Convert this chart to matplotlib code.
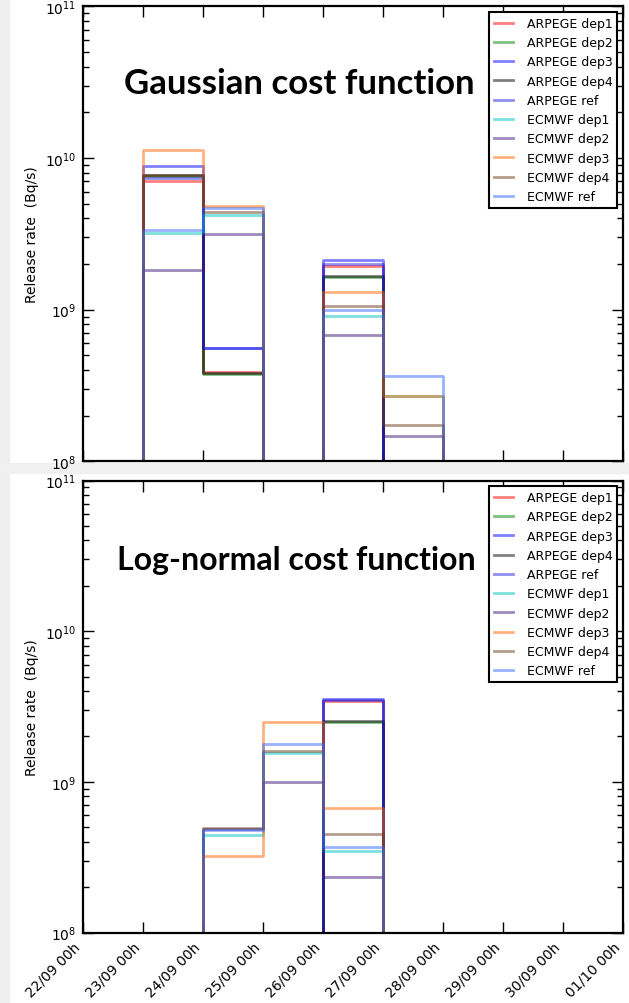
import matplotlib
matplotlib.use('Agg')
import matplotlib.pyplot as plt
import numpy as np

plt.rcParams['font.family'] = ['DejaVu Sans']
plt.rcParams['mathtext.fontset'] = 'dejavusans'

# one value per day, from 22/09 00h to 01/10 00h (0 = below the plot)
day_labels = ['22/09 00h', '23/09 00h', '24/09 00h', '25/09 00h', '26/09 00h',
              '27/09 00h', '28/09 00h', '29/09 00h', '30/09 00h', '01/10 00h']

series_names = ['ARPEGE dep1', 'ARPEGE dep2', 'ARPEGE dep3', 'ARPEGE dep4', 'ARPEGE ref',
                'ECMWF dep1', 'ECMWF dep2', 'ECMWF dep3', 'ECMWF dep4', 'ECMWF ref']
series_colors = ['#ff0000', '#008000', '#0000ff', '#000000', '#2020e0',
                 '#00bfbf', '#3c1478', '#ff6600', '#6b3a1a', '#3366ff']

# Gaussian cost function
gauss_arpege_dep1 = [0, 7.0e9, 3.9e8, 0, 1.94e9, 0, 0, 0, 0]
gauss_arpege_dep2 = [0, 7.6e9, 3.75e8, 0, 1.65e9, 0, 0, 0, 0]
gauss_arpege_dep3 = [0, 8.8e9, 5.6e8, 0, 2.12e9, 0, 0, 0, 0]
gauss_arpege_dep4 = [0, 7.7e9, 3.85e8, 0, 1.67e9, 0, 0, 0, 0]
gauss_arpege_ref = [0, 7.4e9, 5.6e8, 0, 1.99e9, 0, 0, 0, 0]
gauss_ecmwf_dep1 = [0, 3.2e9, 4.2e9, 0, 9.1e8, 2.7e8, 0, 0, 0]
gauss_ecmwf_dep2 = [0, 1.82e9, 3.14e9, 0, 6.8e8, 1.47e8, 0, 0, 0]
gauss_ecmwf_dep3 = [0, 1.13e10, 4.8e9, 0, 1.3e9, 2.7e8, 0, 0, 0]
gauss_ecmwf_dep4 = [0, 7.7e9, 4.4e9, 0, 1.05e9, 1.74e8, 0, 0, 0]
gauss_ecmwf_ref = [0, 3.35e9, 4.65e9, 0, 1.0e9, 3.66e8, 0, 0, 0]

# Log-normal cost function
lognorm_arpege_dep1 = [0, 0, 0, 0, 3.44e9, 0, 0, 0, 0]
lognorm_arpege_dep2 = [0, 0, 0, 0, 2.5e9, 0, 0, 0, 0]
lognorm_arpege_dep3 = [0, 0, 0, 0, 3.56e9, 0, 0, 0, 0]
lognorm_arpege_dep4 = [0, 0, 0, 0, 2.53e9, 0, 0, 0, 0]
lognorm_arpege_ref = [0, 0, 0, 0, 3.5e9, 0, 0, 0, 0]
lognorm_ecmwf_dep1 = [0, 0, 4.46e8, 1.55e9, 3.5e8, 0, 0, 0, 0]
lognorm_ecmwf_dep2 = [0, 0, 4.9e8, 9.9e8, 2.34e8, 0, 0, 0, 0]
lognorm_ecmwf_dep3 = [0, 0, 3.24e8, 2.49e9, 6.7e8, 0, 0, 0, 0]
lognorm_ecmwf_dep4 = [0, 0, 4.93e8, 1.6e9, 4.5e8, 0, 0, 0, 0]
lognorm_ecmwf_ref = [0, 0, 4.8e8, 1.77e9, 3.72e8, 0, 0, 0, 0]

gauss_data = [gauss_arpege_dep1, gauss_arpege_dep2, gauss_arpege_dep3, gauss_arpege_dep4,
              gauss_arpege_ref, gauss_ecmwf_dep1, gauss_ecmwf_dep2, gauss_ecmwf_dep3,
              gauss_ecmwf_dep4, gauss_ecmwf_ref]
lognorm_data = [lognorm_arpege_dep1, lognorm_arpege_dep2, lognorm_arpege_dep3,
                lognorm_arpege_dep4, lognorm_arpege_ref, lognorm_ecmwf_dep1,
                lognorm_ecmwf_dep2, lognorm_ecmwf_dep3, lognorm_ecmwf_dep4,
                lognorm_ecmwf_ref]


def drawPanel(ax, data, show_xlabels):
    '''Step lines for every run, log y axis, legend in the corner'''
    edges = np.arange(len(day_labels))
    for num, values in enumerate(data):
        v = np.asarray(values, dtype=float)
        v = np.where(v > 0, v, 1.0)  # zero -> well below the axis
        ax.step(edges, np.append(v, v[-1]), where='post', color=series_colors[num],
                alpha=0.5, lw=2, label=series_names[num])

    ax.set_yscale('log')
    ax.set_ylim(1e8, 1e11)
    ax.set_xlim(edges[0], edges[-1])
    ax.set_xticks(edges)
    if show_xlabels:
        ax.set_xticklabels(day_labels, rotation=45, ha='right', fontsize=10)
    else:
        ax.set_xticklabels([])
    ax.set_ylabel('Release rate  (Bq/s)', fontsize=10, labelpad=4)
    ax.tick_params(which='both', direction='in', top=True, right=True, labelsize=10)
    ax.tick_params(which='major', length=8, width=1, pad=5)
    ax.tick_params(which='minor', length=4, width=1)
    for sp in ax.spines.values():
        sp.set_linewidth(1.6)

    leg = ax.legend(loc='upper right', fontsize=9, fancybox=False, framealpha=1,
                    handlelength=1.5, handletextpad=1.1, borderaxespad=0.45)
    leg.get_frame().set_edgecolor('black')
    leg.get_frame().set_linewidth(1.5)


fig = plt.figure(figsize=(6.29, 10.04), dpi=100)

# light grey bits of the slide behind the plots
fig.patches.append(plt.Rectangle((0, 0), 9 / 629, 1, transform=fig.transFigure,
                                 color='#efefef', zorder=-1))
fig.patches.append(plt.Rectangle((0, 1 - 474 / 1004), 1, 10 / 1004,
                                 transform=fig.transFigure, color='#f0f0f0', zorder=-1))

ax1 = fig.add_axes([83 / 629, 1 - 462.3 / 1004, 540 / 629, 455 / 1004])
drawPanel(ax1, gauss_data, False)

ax2 = fig.add_axes([83 / 629, 1 - 933.5 / 1004, 540 / 629, 452 / 1004])
drawPanel(ax2, lognorm_data, True)

fig.text(299 / 629, 1 - 94 / 1004, 'Gaussian cost function', ha='center', va='baseline',
         fontsize=25, fontweight='bold', family='Lato')
fig.text(296 / 629, 1 - 570 / 1004, 'Log-normal cost function', ha='center', va='baseline',
         fontsize=23, fontweight='bold', family='Lato')

fig.savefig('out.png', dpi=100)
